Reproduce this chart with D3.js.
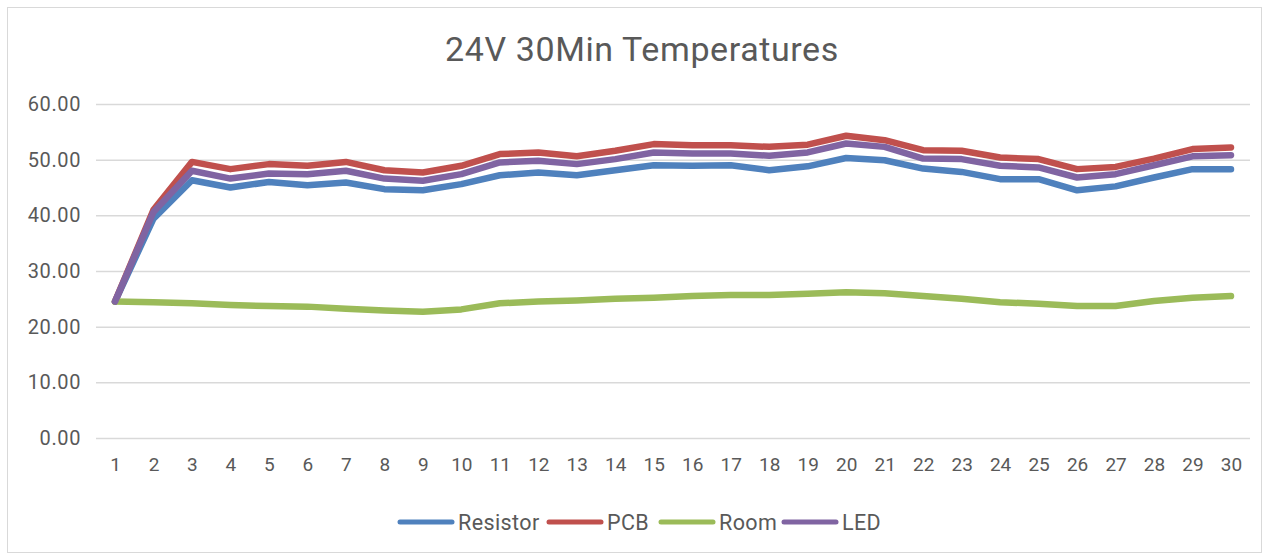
<!DOCTYPE html>
<html>
<head>
<meta charset="utf-8">
<script src="https://cdn.jsdelivr.net/npm/d3@7/dist/d3.min.js"></script>
<style>
  html, body { margin: 0; padding: 0; background: #fff; }
  svg { display: block; font-family: Roboto, "DejaVu Sans", sans-serif; }
</style>
</head>
<body>
<svg id="chart" width="1267" height="557"></svg>
<script>
const categories = d3.range(1, 31).map(String);
const yTicks = [0, 10, 20, 30, 40, 50, 60];
const seriesNames = ["Resistor", "PCB", "Room", "LED"];
const seriesColors = ["#4F81BD", "#C0504D", "#9BBB59", "#8064A2"];
const resistor = [24.5, 39.4, 46.3, 45.0, 46.0, 45.4, 45.9, 44.7, 44.5, 45.6, 47.2, 47.7, 47.2, 48.1, 49.0, 48.9, 49.0, 48.1, 48.8, 50.3, 49.9, 48.4, 47.8, 46.5, 46.5, 44.5, 45.2, 46.8, 48.3, 48.3];
const pcb = [24.5, 41.0, 49.6, 48.3, 49.2, 48.9, 49.6, 48.1, 47.7, 48.9, 51.0, 51.3, 50.6, 51.6, 52.8, 52.6, 52.6, 52.3, 52.7, 54.3, 53.5, 51.7, 51.6, 50.4, 50.1, 48.3, 48.7, 50.2, 51.9, 52.2];
const room = [24.5, 24.4, 24.2, 23.9, 23.7, 23.6, 23.2, 22.9, 22.7, 23.1, 24.2, 24.5, 24.7, 25.0, 25.2, 25.5, 25.7, 25.7, 25.9, 26.2, 26.0, 25.5, 25.0, 24.4, 24.1, 23.7, 23.7, 24.6, 25.2, 25.5];
const led = [24.5, 40.6, 48.0, 46.6, 47.5, 47.4, 48.0, 46.6, 46.2, 47.4, 49.5, 49.8, 49.2, 50.1, 51.3, 51.1, 51.1, 50.7, 51.3, 52.9, 52.3, 50.2, 50.1, 48.9, 48.6, 46.8, 47.4, 49.0, 50.6, 50.8];
const title = "24V 30Min Temperatures";

const seriesValues = [resistor, pcb, room, led];
const svg = d3.select("#chart");
const textColor = "#595959";

// outer border
svg.append("rect")
  .attr("x", 7.5).attr("y", 7.5).attr("width", 1254).attr("height", 545)
  .attr("fill", "#fff").attr("stroke", "#D9D9D9").attr("stroke-width", 1);

const x = d3.scalePoint().domain(categories).range([115, 1231]);
const y = d3.scaleLinear().domain([0, 60]).range([438, 104]);

// title
svg.append("text")
  .attr("x", 642).attr("y", 61)
  .attr("text-anchor", "middle")
  .attr("fill", textColor)
  .attr("font-size", 34)
  .attr("letter-spacing", 0.6)
  .text(title);

// gridlines + y axis
const yAxis = d3.axisLeft(y).tickValues(yTicks).tickFormat(d3.format(".2f"))
  .tickSize(-(1250 - 96)).tickPadding(14);
const gy = svg.append("g").attr("transform", "translate(96,0)").call(yAxis);
gy.select(".domain").remove();
gy.selectAll(".tick line").attr("stroke", "#D9D9D9").attr("stroke-width", 1.5);
gy.selectAll(".tick text").attr("fill", textColor).attr("font-size", 20)
  .attr("letter-spacing", 0.6)
  .attr("font-family", "Roboto, sans-serif").attr("x", -15);

// x axis
const xAxis = d3.axisBottom(x).tickSize(0).tickPadding(20);
const gx = svg.append("g").attr("transform", "translate(0,438)").call(xAxis);
gx.select(".domain").remove();
gx.selectAll(".tick text").attr("fill", textColor).attr("font-size", 19)
  .attr("font-family", "Roboto, sans-serif");

// lines
const line = d3.line()
  .x((d, i) => x(categories[i]))
  .y(d => y(d));

seriesValues.forEach((vals, si) => {
  svg.append("path")
    .datum(vals)
    .attr("d", line)
    .attr("fill", "none")
    .attr("stroke", seriesColors[si])
    .attr("stroke-width", 6.5)
    .attr("stroke-linejoin", "round")
    .attr("stroke-linecap", "round");
});

// legend
const legendX = [398, 547, 659, 782];
const legendY = 522;
const lg = svg.append("g");
seriesNames.forEach((name, i) => {
  lg.append("line")
    .attr("x1", legendX[i] + 2).attr("x2", legendX[i] + 54)
    .attr("y1", legendY).attr("y2", legendY)
    .attr("stroke", seriesColors[i]).attr("stroke-width", 5)
    .attr("stroke-linecap", "round");
  lg.append("text")
    .attr("x", legendX[i] + 60).attr("y", legendY + 7.5)
    .attr("fill", textColor).attr("font-size", 21.5)
    .attr("letter-spacing", 0.4)
    .text(name);
});
</script>
</body>
</html>
